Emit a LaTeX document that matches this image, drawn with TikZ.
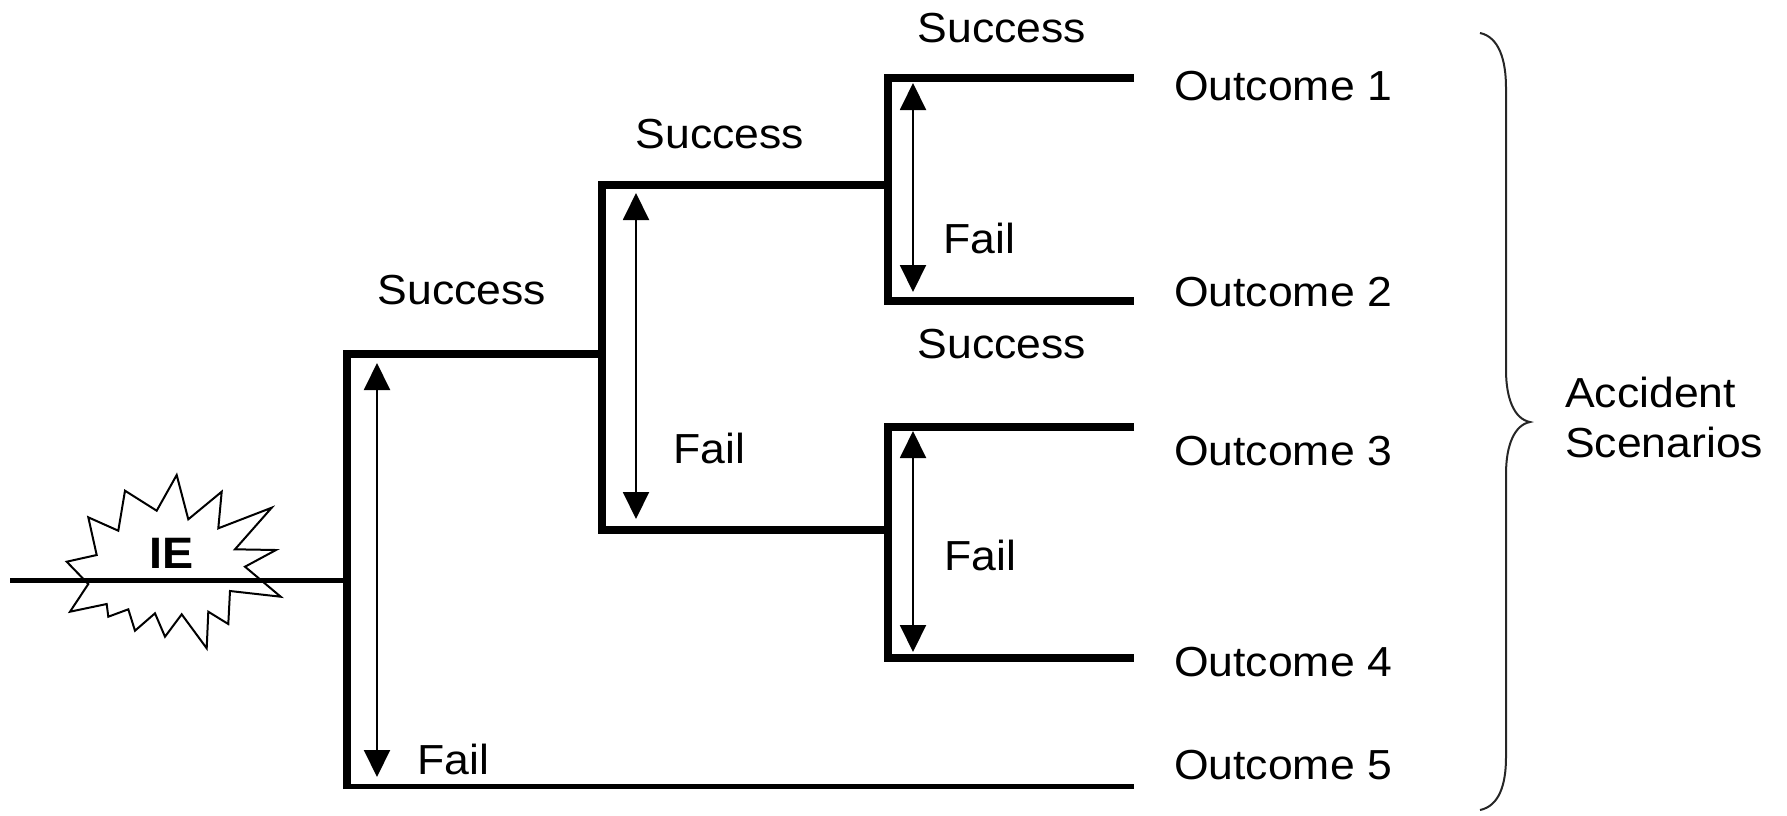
\documentclass[tikz,border=0pt]{standalone}
\usepackage{fontspec}
\setmainfont{Liberation Sans}[FakeStretch=1.06]
\usetikzlibrary{arrows.meta}
\begin{document}
\begin{tikzpicture}[x=1pt,y=-1pt,
  branch/.style={line width=8pt, line join=miter},
  lastbranch/.style={line width=5pt},
  span/.style={line width=2pt,
    {Triangle[length=27pt,width=26pt]}-{Triangle[length=27pt,width=26pt]}},
  lab/.style={inner sep=0pt, font=\fontsize{42}{50}\selectfont},
  burst/.style={line width=2pt, line join=miter},
  bracepath/.style={line width=2pt, black!85},
]
\useasboundingbox (0,0) rectangle (1787,815);

% tree junctions and branch ends
\coordinate (ie0) at (10,580);
\coordinate (r1)  at (347,580);
\coordinate (v1t) at (347,354);
\coordinate (v1b) at (347,789);
\coordinate (v1f) at (347,786);
\coordinate (o5)  at (1134,786);
\coordinate (v2m) at (602,354);
\coordinate (v2t) at (602,185);
\coordinate (v2b) at (602,530);
\coordinate (v3m) at (888,185);
\coordinate (v3t) at (888,78);
\coordinate (v3b) at (888,301);
\coordinate (o1)  at (1134,78);
\coordinate (o2)  at (1134,301);
\coordinate (v4m) at (888,530);
\coordinate (v4t) at (888,427);
\coordinate (v4b) at (888,658);
\coordinate (o3)  at (1134,427);
\coordinate (o4)  at (1134,658);

% initiating event burst
\draw[burst] (176.7,475) -- (188.3,519.3) -- (221.7,491.7) -- (218.3,528.3)
  -- (271.7,507.7) -- (235,549.3) -- (276,550) -- (245,566.7) -- (280.7,596.7)
  -- (230,591) -- (228.3,624) -- (208.3,611.7) -- (206.7,648.3) -- (181.7,614.3)
  -- (165,636.7) -- (155,613.3) -- (135,630.7) -- (128.3,609.3) -- (108.3,616.7)
  -- (106.7,604) -- (70,611.7) -- (88.3,584) -- (66.7,561.7) -- (96.7,555)
  -- (88.3,517.3) -- (118.3,530.7) -- (125,490.7) -- (156.7,510.7) -- cycle;
\node[inner sep=0pt, anchor=base, font=\fontsize{44}{50}\selectfont\bfseries]
  (ie) at (172,568) {IE};
\draw[line width=5pt] (ie0) -- (r1);

% event tree branches
\draw[branch] (v1b) -- (v1t) -- (v2m);
\draw[lastbranch] (v1f) -- (o5);
\draw[branch] (v3m) -- (v2t) -- (v2b) -- (v4m);
\draw[branch] (o1) -- (v3t) -- (v3b) -- (o2);
\draw[branch] (o3) -- (v4t) -- (v4b) -- (o4);

% success / fail spans
\coordinate (a1t) at (377,363); \coordinate (a1b) at (377,777);
\coordinate (a2t) at (636,193); \coordinate (a2b) at (636,519);
\coordinate (a3t) at (913,83);  \coordinate (a3b) at (913,292);
\coordinate (a4t) at (913,431); \coordinate (a4b) at (913,652);
\draw[span] (a1t) -- (a1b);
\draw[span] (a2t) -- (a2b);
\draw[span] (a3t) -- (a3b);
\draw[span] (a4t) -- (a4b);

% branch labels
\node[lab, anchor=base] (s1) at (462,304)  {Success};
\node[lab, anchor=base] (s2) at (720,148)  {Success};
\node[lab, anchor=base] (s3) at (1002,42)  {Success};
\node[lab, anchor=base] (s4) at (1002,358) {Success};
\node[lab, anchor=base west] (f1) at (417,774) {Fail};
\node[lab, anchor=base west] (f2) at (673,463) {Fail};
\node[lab, anchor=base west] (f3) at (943,253) {Fail};
\node[lab, anchor=base west] (f4) at (944,570) {Fail};

% outcomes
\node[lab, anchor=base west] (out1) at (1174,100) {Outcome 1};
\node[lab, anchor=base west] (out2) at (1174,306) {Outcome 2};
\node[lab, anchor=base west] (out3) at (1174,465) {Outcome 3};
\node[lab, anchor=base west] (out4) at (1174,676) {Outcome 4};
\node[lab, anchor=base west] (out5) at (1174,779) {Outcome 5};

% grouping brace
\coordinate (bt) at (1480,33);
\coordinate (bm) at (1530,422);
\coordinate (bb) at (1480,810);
\draw[bracepath] (bt) .. controls (1499,37) and (1506,60) .. (1506,88)
  -- (1506,370) .. controls (1506,398) and (1514,419) .. (bm)
  .. controls (1514,425) and (1506,446) .. (1506,474)
  -- (1506,757) .. controls (1506,785) and (1499,806) .. (bb);
\node[lab, anchor=west, align=left] (acc) at (1565,417) {Accident\\Scenarios};
\end{tikzpicture}
\end{document}
